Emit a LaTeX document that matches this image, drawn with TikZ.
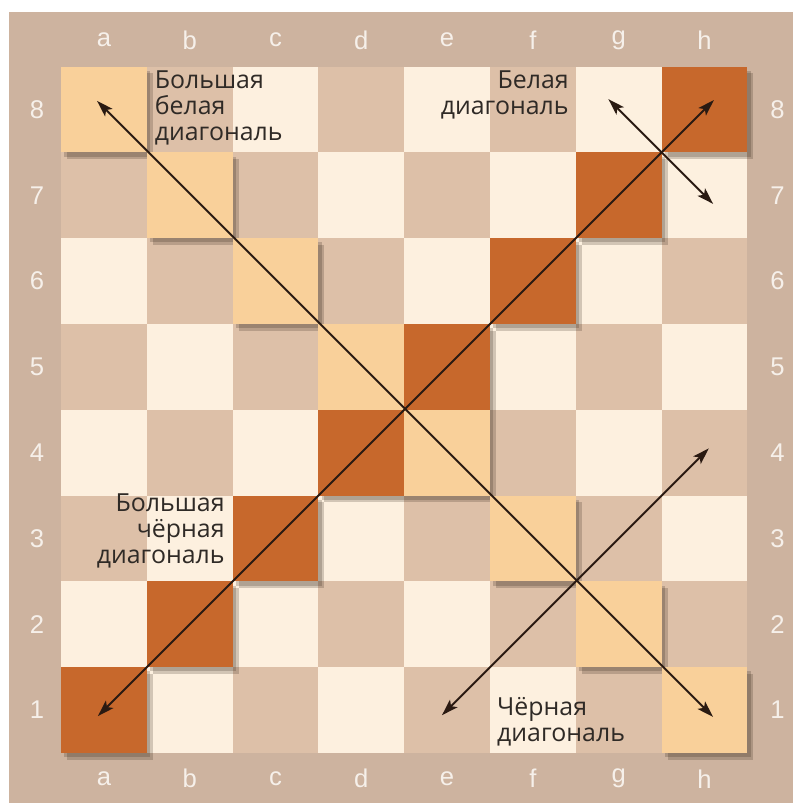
\documentclass[tikz,border=0pt]{standalone}
\usepackage{fontspec}
\setmainfont{Open Sans}
\newfontfamily\labelfont{Liberation Sans}
\usetikzlibrary{arrows.meta}
\definecolor{frame}{HTML}{CDB39F}
\definecolor{lightsq}{HTML}{FDF0DF}
\definecolor{darksq}{HTML}{DDC0A8}
\definecolor{lighthl}{HTML}{F9D09A}
\definecolor{darkhl}{HTML}{C7682C}
\definecolor{arrowcol}{HTML}{2A1A12}
\definecolor{captioncol}{HTML}{2F2A26}
\definecolor{labelcol}{HTML}{F6F0EA}

\tikzset{
  boardlabel/.style={text=labelcol, inner sep=0pt, font=\labelfont\fontsize{17}{17}\selectfont},
  caption/.style={text=captioncol, inner sep=0pt, font=\fontsize{16.5}{17.2}\selectfont},
  diag/.style={line width=1.3pt, color=arrowcol, <->},
  shadow/.style={fill=black!80!brown, opacity=0.2}
}

\begin{document}
\begin{tikzpicture}[x=2cm, y=2cm, >={Stealth[length=11pt, width=7pt, inset=2.5pt]}]
    \useasboundingbox (-0.711,-0.583) rectangle (8.531,8.776);

    % Frame
    \fill[frame] (-0.606,-0.583) rectangle (8.531,8.636);

    % Squares
    \foreach \i in {0,...,7}
      \foreach \j in {0,...,7} {
        \pgfmathtruncatemacro{\sqcol}{mod(\i+\j,2)}
        \ifnum\sqcol=0
          \fill[darksq] (\i,\j) rectangle ++(1,1);
        \else
          \fill[lightsq] (\i,\j) rectangle ++(1,1);
        \fi
      }

    % Shadows of the raised squares
    \foreach \k in {0,...,7} {
      \fill[shadow] (\k+0.07,\k-0.08) rectangle ++(1,1);
      \fill[shadow] (\k+0.04,\k-0.05) rectangle ++(1,1);
      \fill[shadow] (\k+0.07,7-\k-0.08) rectangle ++(1,1);
      \fill[shadow] (\k+0.04,7-\k-0.05) rectangle ++(1,1);
    }

    % Raised squares on the two long diagonals
    \foreach \k in {0,...,7} {
      \fill[darkhl] (\k,\k) rectangle ++(1,1);
      \fill[lighthl] (\k,7-\k) rectangle ++(1,1);
    }

    % Files and ranks
    \foreach \f [count=\c from 0] in {a,b,c,d,e,f,g,h} {
      \node[boardlabel] (top-\f) at (\c+0.5,8.31) {\f};
      \node[boardlabel] (bot-\f) at (\c+0.5,-0.30) {\f};
    }
    \foreach \r in {1,...,8} {
      \node[boardlabel] (left-\r) at (-0.28,\r-0.5) {\r};
      \node[boardlabel] (right-\r) at (8.35,\r-0.5) {\r};
    }

    % Arrow ends
    \coordinate (a1) at (0.43,0.43);
    \coordinate (h8) at (7.61,7.61);
    \coordinate (a8) at (0.42,7.60);
    \coordinate (h1) at (7.60,0.42);
    \coordinate (g8) at (6.38,7.62);
    \coordinate (h7) at (7.60,6.40);
    \coordinate (e1) at (4.44,0.44);
    \coordinate (h4) at (7.55,3.55);

    % Diagonals
    \draw[diag] (a1) -- (h8);
    \draw[diag] (a8) -- (h1);
    \draw[diag] (g8) -- (h7);
    \draw[diag] (e1) -- (h4);

    % Captions (anchored at the baseline of the last line)
    \node[caption, anchor=base west, align=left] (bigwhite) at (1.09,7.14) {Большая\\белая\\диагональ};
    \node[caption, anchor=base east, align=right] (white) at (5.92,7.44) {Белая\\диагональ};
    \node[caption, anchor=base east, align=right] (bigblack) at (1.91,2.21) {Большая\\чёрная\\диагональ};
    \node[caption, anchor=base west, align=left] (black) at (5.08,0.13) {Чёрная\\диагональ};
\end{tikzpicture}
\end{document}
